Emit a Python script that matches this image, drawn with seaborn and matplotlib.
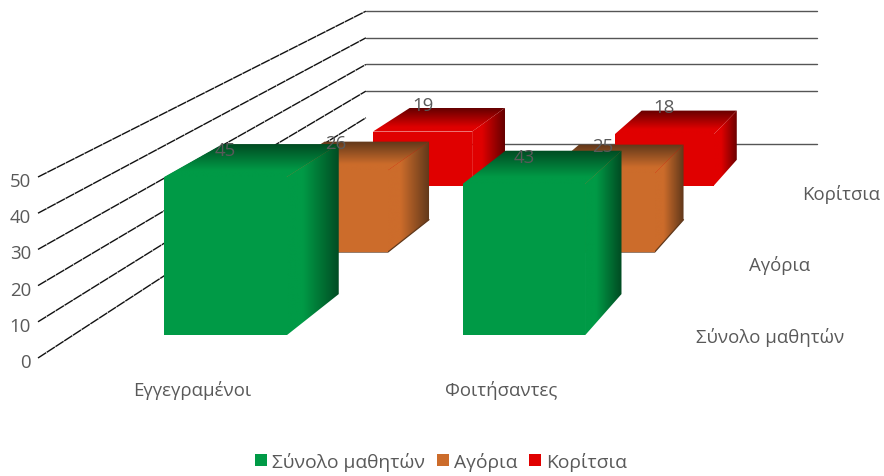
# -*- coding: utf-8 -*-
import numpy as np
import pandas as pd
import seaborn as sn
import matplotlib.pyplot as plt
from matplotlib.colors import to_rgb
from matplotlib.patches import Patch, Polygon

### chart values
categories = ['Εγγεγραμένοι', 'Φοιτήσαντες']
series_names = ['Σύνολο μαθητών', 'Αγόρια', 'Κορίτσια']
total_values = [45, 43]
boys_values = [26, 25]
girls_values = [19, 18]
y_ticks = [0, 10, 20, 30, 40, 50]
wall_levels = [0, 20, 30, 40, 50]

series_colors = ['#009A46', '#CC6C2B', '#E00000']
dark_colors = ['#004A22', '#5F371A', '#640000']

### one point perspective, everything below goes through project()
VP_X, VP_Y = 1280, -450
FLOOR = 809
UNIT = 3.62
depth_planes = [(0.972, 0.921), (0.869, 0.829), (0.787, 0.755)]
layer_shift = [0, -4.5, -4.5]
label_shift = [0, 3, 0]
WALL_S = 0.736
BAR_WIDTH = 126
CAT_START, CAT_STEP = 195, 307
WALL_LEFT, WALL_RIGHT = 38, 651


def project(x, s, v):
    return VP_X + s * (x - VP_X), VP_Y + s * (FLOOR - UNIT * v)


def cat_x(pos, idx=0):
    return CAT_START + CAT_STEP * pos + layer_shift[idx]


sn.set_theme(style='white')
plt.rcParams['font.family'] = ['Open Sans', 'DejaVu Sans']
TEXT = '#595959'
LABEL_SIZE = 13.4

df = pd.DataFrame({
    'category': categories * 3,
    'series': [n for n in series_names for _ in categories],
    'value': total_values + boys_values + girls_values,
})

fig = plt.figure(figsize=(8.84, 4.77), dpi=100)
W, H = 884, 477


def pixel_axes(z):
    a = fig.add_axes([0, 0, 1, 1], zorder=z)
    a.set_xlim(0, W)
    a.set_ylim(H, 0)
    a.set_axis_off()
    a.patch.set_alpha(0)
    return a


### pixel space axes for the wall, labels
base = pixel_axes(0)
top = pixel_axes(20)

### wall lines
for level in y_ticks:
    x0, y0 = project(WALL_LEFT, 1, level)
    x1, y1 = project(WALL_LEFT, WALL_S, level)
    base.plot([x0, x1], [y0, y1], color='#111111', lw=1.0, ls=(0, (7, 0.5)))
    base.text(x0 - 7, y0 + 4, str(level), ha='right', va='center', fontsize=LABEL_SIZE, color=TEXT)
for level in wall_levels:
    x0, y0 = project(WALL_LEFT, WALL_S, level)
    x1, y1 = project(WALL_RIGHT, WALL_S, level)
    base.plot([x0, x1], [y0, y1], color='#555555', lw=1.0)


def ramp(idx, start, n=128):
    ### gradient from the bar colour (t=0, front) to the dark colour (t=1, back)
    c0, c1 = np.array(to_rgb(series_colors[idx])), np.array(to_rgb(dark_colors[idx]))
    t = np.clip((np.linspace(0, 1, n) - start) / (1 - start), 0, 1)
    return c0 + (c1 - c0) * t[:, None]


def gradient_face(ax, corners, image, extent):
    im = ax.imshow(image, extent=extent, aspect='auto', interpolation='bilinear', zorder=2)
    im.set_clip_path(Polygon(corners, closed=True, transform=ax.transData))


### bars, back layer first
for idx in [2, 1, 0]:
    s_front, s_back = depth_planes[idx]
    name = series_names[idx]
    part = df[df['series'] == name]
    z = (2 - idx) * 2 + 2

    ### side and top faces, one gradient each
    faces = pixel_axes(z)
    for i, val in enumerate(part['value']):
        left = cat_x(i, idx) - BAR_WIDTH / 2
        right = cat_x(i, idx) + BAR_WIDTH / 2

        fb = project(right, s_front, 0)
        bb = project(right, s_back, 0)
        bt = project(right, s_back, val)
        ft = project(right, s_front, val)
        side = [fb, bb, bt, ft]
        gradient_face(faces, side, ramp(idx, 0.3)[None, :, :],
                      (fb[0], bb[0], max(fb[1], bb[1]), min(ft[1], bt[1])))

        lf = project(left, s_front, val)
        lb = project(left, s_back, val)
        face_top = [lf, lb, bt, ft]
        gradient_face(faces, face_top, ramp(idx, 0.2)[:, None, :][::-1],
                      (min(lf[0], lb[0]), max(ft[0], bt[0]), ft[1], bt[1]))

        ### only the orange bars show a dark line along the floor
        if name == 'Αγόρια':
            lb0 = project(left, s_front, 0)
            faces.plot([lb0[0], fb[0], bb[0]], [lb0[1], fb[1], bb[1]], color=dark_colors[idx], lw=0.9, zorder=3)
    faces.set_xlim(0, W)
    faces.set_ylim(H, 0)

    ### front faces through the library's own bars
    xl, _ = project(cat_x(-0.5, idx), s_front, 0)
    xr, yb = project(cat_x(1.5, idx), s_front, 0)
    ax = fig.add_axes([xl / W, 1 - yb / H, (xr - xl) / W, s_front * UNIT * 50 / H], zorder=z + 1)
    ax.patch.set_alpha(0)
    sn.barplot(data=part, x='category', y='value', color=series_colors[idx], saturation=1,
               width=BAR_WIDTH / CAT_STEP, linewidth=0, ax=ax)
    ax.set_xlim(-0.5, 1.5)
    ax.set_ylim(0, 50)
    ax.set_axis_off()

    ### value labels sit just behind the front top edge
    for i, val in enumerate(part['value']):
        lx, ly = project(cat_x(i, idx), s_front, val)
        top.text(lx + label_shift[idx], ly - 27, str(val), ha='center', va='center',
                 fontsize=LABEL_SIZE, color=TEXT)

### category and depth labels
for i, cat in enumerate(categories):
    top.text(192 + 309 * i, 391, cat, ha='center', va='center', fontsize=LABEL_SIZE, color=TEXT)
for name, px, py in zip(series_names, [770, 780, 841], [338, 266, 195]):
    top.text(px, py, name, ha='center', va='center', fontsize=LABEL_SIZE, color=TEXT)

handles = [Patch(fc=c, ec='none') for c in series_colors]
leg = fig.legend(handles, series_names, loc='center', bbox_to_anchor=(441 / W, 1 - 462.5 / H), ncol=3,
                 frameon=False, fontsize=13.9, labelcolor=TEXT, handlelength=0.62, handleheight=0.62,
                 handletextpad=0.27, columnspacing=0.62)

fig.savefig('out.png', dpi=100)
